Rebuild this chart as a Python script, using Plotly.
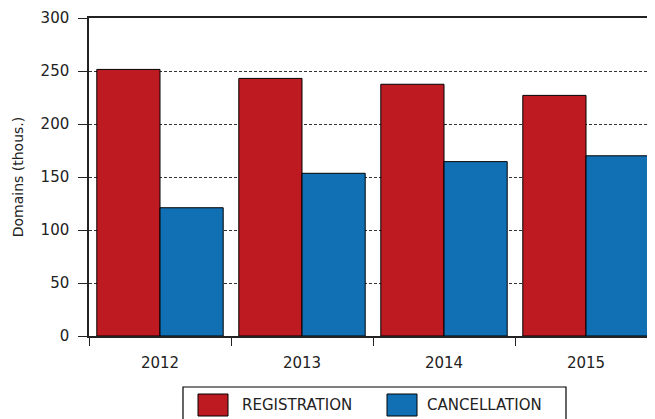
import plotly.graph_objects as go

years = ['2012', '2013', '2014', '2015']
registration = [251.5, 243, 237.5, 227]
cancellation = [121, 153.5, 164.5, 170]

RED = '#BE1A22'
BLUE = '#1170B4'

fig = go.Figure()
fig.add_trace(go.Bar(
    x=years, y=registration, name='REGISTRATION', showlegend=False,
    marker=dict(color=RED, line=dict(color='black', width=1)),
))
fig.add_trace(go.Bar(
    x=years, y=cancellation, name='CANCELLATION', showlegend=False,
    marker=dict(color=BLUE, line=dict(color='black', width=1)),
))

# plot area on screen (page adds an 8px body margin): x 89..657, y 18..336
def px_x(p):
    return (p - 89) / 568

def px_y(p):
    return (336 - p) / 318

# legend box drawn by hand so the swatches can be large like the original
fig.add_shape(type='rect', xref='paper', yref='paper',
              x0=px_x(183), x1=px_x(566), y0=px_y(430), y1=px_y(387),
              line=dict(color='black', width=1.2), fillcolor='white')
for name, color, sx, tx in [('REGISTRATION', RED, 198, 240),
                            ('CANCELLATION', BLUE, 387, 425)]:
    fig.add_shape(type='rect', xref='paper', yref='paper',
                  x0=px_x(sx), x1=px_x(sx + 30), y0=px_y(416), y1=px_y(394),
                  line=dict(color='black', width=1), fillcolor=color)
    fig.add_annotation(text=name, xref='paper', yref='paper',
                       x=px_x(tx), y=px_y(405), xanchor='left', yanchor='middle',
                       showarrow=False, font=dict(size=15, color='#222'))

fig.update_layout(
    width=655, height=419,
    margin=dict(l=81, r=6, t=10, b=91),
    barmode='group', bargap=0.11, bargroupgap=0,
    plot_bgcolor='white', paper_bgcolor='white',
    font=dict(family='DejaVu Sans, sans-serif', size=15, color='#222'),
    showlegend=False,
)
fig.update_xaxes(
    showline=True, linecolor='#222', linewidth=1.5, mirror=True,
    ticks='outside', ticklen=8, tickcolor='#222', tickson='boundaries',
    ticklabelstandoff=12, showgrid=False, automargin=False,
)
fig.update_yaxes(
    range=[0, 300], dtick=50, showline=True, linecolor='#222', linewidth=1.5,
    ticks='outside', ticklen=9, tickcolor='#222', ticklabelstandoff=6,
    ticklabeloverflow='allow',
    showgrid=True, gridcolor='#333', griddash='3px,2px', gridwidth=1,
    zeroline=False, automargin=False,
    title=dict(text='Domains (thous.)', font=dict(size=14), standoff=14),
)

fig.write_html('out.html')
